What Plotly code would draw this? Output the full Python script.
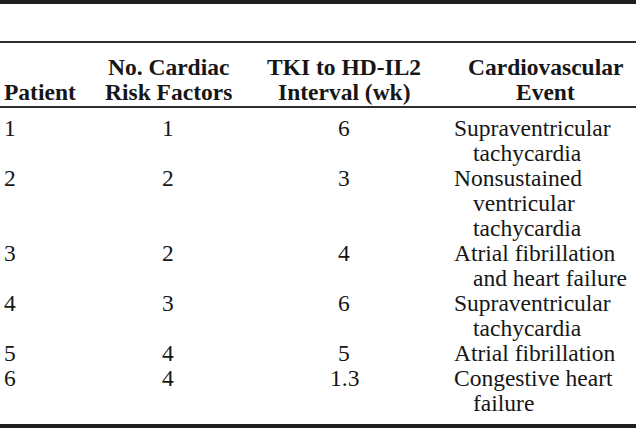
import plotly.graph_objects as go

# ---- data ----
header_line1 = ["", "No. Cardiac", "TKI to HD-IL2", "Cardiovascular"]
header_line2 = ["Patient", "Risk Factors", "Interval (wk)", "Event"]
patients = ["1", "2", "3", "4", "5", "6"]
risk_factors = ["1", "2", "2", "3", "4", "4"]
intervals = ["6", "3", "4", "6", "5", "1.3"]
events = [
    ["Supraventricular", "tachycardia"],
    ["Nonsustained", "ventricular", "tachycardia"],
    ["Atrial fibrillation", "and heart failure"],
    ["Supraventricular", "tachycardia"],
    ["Atrial fibrillation"],
    ["Congestive heart", "failure"],
]

W, H = 636, 428
FONT = "Liberation Serif, Times New Roman, serif"
FS = 23.5
TXT = "#161616"
LINE_H = 25

col_center = [None, 168, 344, 545]
x_patient = 2
x_event = 452
indent = 19

fig = go.Figure()
fig.add_trace(go.Scatter(x=[0, W], y=[0, H], mode="markers",
                         marker=dict(opacity=0), hoverinfo="skip", showlegend=False))

ann = []
# headers
hy1, hy2 = 67, 92
for i in range(4):
    for txt, yy in ((header_line1[i], hy1), (header_line2[i], hy2)):
        if not txt:
            continue
        if i == 0:
            ann.append(dict(x=x_patient, y=yy, text="<b>%s</b>" % txt, xanchor="left"))
        else:
            ann.append(dict(x=col_center[i], y=yy, text="<b>%s</b>" % txt, xanchor="center"))

# body
y = 128
for p, r, t, ev in zip(patients, risk_factors, intervals, events):
    ann.append(dict(x=x_patient, y=y, text=p, xanchor="left"))
    ann.append(dict(x=col_center[1], y=y, text=r, xanchor="center"))
    ann.append(dict(x=col_center[2], y=y, text=t, xanchor="center"))
    for k, line in enumerate(ev):
        ann.append(dict(x=x_event + (indent if k else 0), y=y + k * LINE_H,
                        text=line, xanchor="left"))
    y += LINE_H * len(ev)

for a in ann:
    a.update(xref="x", yref="y", yanchor="middle", showarrow=False,
             font=dict(family=FONT, size=FS, color=TXT))

shapes = [
    dict(type="line", x0=0, x1=W, y0=2, y1=2, line=dict(color="#1e1e1e", width=4)),
    dict(type="line", x0=0, x1=W, y0=42, y1=42, line=dict(color="#2e2e2e", width=2)),
    dict(type="line", x0=0, x1=W, y0=107, y1=107, line=dict(color="#2e2e2e", width=2)),
    dict(type="line", x0=0, x1=W, y0=426, y1=426, line=dict(color="#1e1e1e", width=4)),
]
for s in shapes:
    s.update(xref="x", yref="y")

fig.update_layout(
    width=W, height=H, margin=dict(l=0, r=0, t=0, b=0),
    paper_bgcolor="white", plot_bgcolor="white",
    xaxis=dict(range=[0, W], visible=False, fixedrange=True),
    yaxis=dict(range=[H, 0], visible=False, fixedrange=True),
    annotations=ann, shapes=shapes, showlegend=False,
)
fig.write_html("out.html", config={"displayModeBar": False},
               post_script="document.body.style.margin='0';document.body.style.overflow='hidden';")
